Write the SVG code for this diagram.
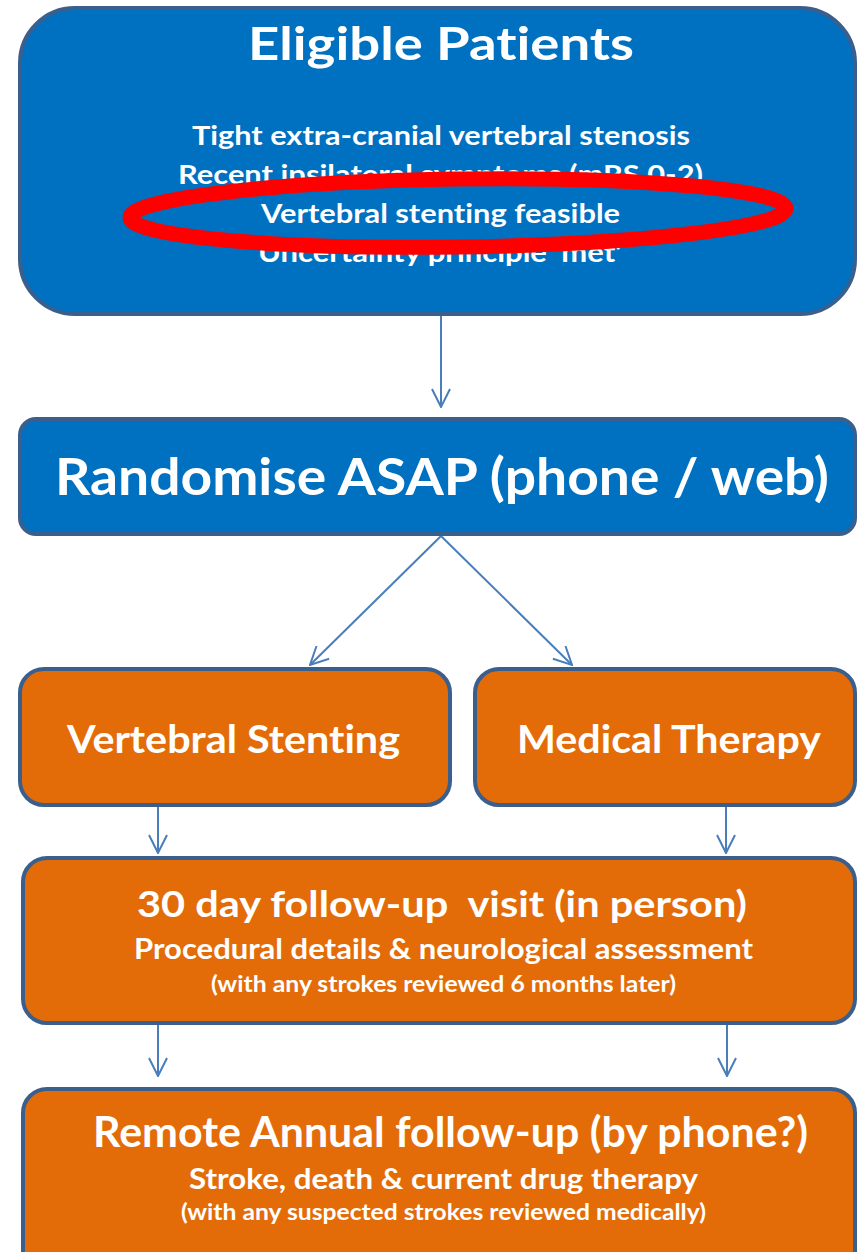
<svg xmlns="http://www.w3.org/2000/svg" width="858" height="1252" viewBox="0 0 858 1252">
<style>
.box{stroke:#3b5f8c;stroke-width:4}
.blue{fill:#0070c0}
.orange{fill:#e36c09}
text{font-family:Lato,"Open Sans","Liberation Sans",sans-serif;font-weight:bold;fill:#ffffff;font-variant-ligatures:none;white-space:pre}
.conn{stroke:#4a7ebb;stroke-width:2;fill:none;marker-end:url(#arr)}
</style>
<defs>
<marker id="arr" viewBox="0 0 20 20" refX="19" refY="10" markerWidth="20" markerHeight="20" markerUnits="userSpaceOnUse" orient="auto">
<path d="M1,1 L19,10 L1,19" fill="none" stroke="#4a7ebb" stroke-width="2"/>
</marker>
</defs>
<rect width="858" height="1252" fill="#ffffff"/>
<g id="connectors">
<line class="conn" x1="441" y1="316" x2="441" y2="407"/>
<line class="conn" x1="441" y1="536" x2="310" y2="665"/>
<line class="conn" x1="441" y1="536" x2="572" y2="665"/>
<line class="conn" x1="158" y1="807" x2="158" y2="853"/>
<line class="conn" x1="726" y1="807" x2="726" y2="853"/>
<line class="conn" x1="158" y1="1025" x2="158" y2="1076"/>
<line class="conn" x1="727" y1="1025" x2="727" y2="1076"/>
</g>
<g id="eligible">
<rect class="box blue" x="20" y="8" width="835" height="306" rx="55"/>
<text x="248" y="60" font-size="46" textLength="386" lengthAdjust="spacingAndGlyphs">Eligible Patients</text>
<text x="192" y="145" font-size="26" textLength="498" lengthAdjust="spacingAndGlyphs">Tight extra-cranial vertebral stenosis</text>
<text x="178" y="184" font-size="26" textLength="525" lengthAdjust="spacingAndGlyphs">Recent ipsilateral symptoms (mRS 0-2)</text>
<text x="258" y="262" font-size="26" textLength="364" lengthAdjust="spacingAndGlyphs">Uncertainty principle ‘met’</text>
<ellipse cx="458" cy="213" rx="328" ry="34" fill="#0070c0" stroke="#ff0000" stroke-width="15" transform="rotate(-0.8 458 213)"/>
<text x="261" y="223" font-size="26" textLength="359" lengthAdjust="spacingAndGlyphs">Vertebral stenting feasible</text>
</g>
<g id="randomise">
<rect class="box blue" x="20" y="419" width="835" height="115" rx="16"/>
<text x="55" y="495" font-size="52" textLength="774" lengthAdjust="spacingAndGlyphs">Randomise ASAP (phone / web)</text>
</g>
<g id="stenting">
<rect class="box orange" x="20" y="669" width="430" height="136" rx="24"/>
<text x="67" y="753" font-size="39" textLength="333" lengthAdjust="spacingAndGlyphs">Vertebral Stenting</text>
</g>
<g id="medical">
<rect class="box orange" x="475" y="669" width="380" height="136" rx="24"/>
<text x="517" y="753" font-size="39" textLength="304" lengthAdjust="spacingAndGlyphs">Medical Therapy</text>
</g>
<g id="followup30">
<rect class="box orange" x="23" y="858" width="832" height="165" rx="24"/>
<text x="137" y="917" font-size="37" textLength="610" lengthAdjust="spacingAndGlyphs">30 day follow-up  visit (in person)</text>
<text x="134" y="959" font-size="28" textLength="619" lengthAdjust="spacingAndGlyphs">Procedural details &amp; neurological assessment</text>
<text x="211" y="992" font-size="22" textLength="465" lengthAdjust="spacingAndGlyphs">(with any strokes reviewed 6 months later)</text>
</g>
<g id="annual">
<rect class="box orange" x="23" y="1089" width="832" height="200" rx="24"/>
<text x="93" y="1147" font-size="42" textLength="715" lengthAdjust="spacingAndGlyphs">Remote Annual follow-up (by phone?)</text>
<text x="189" y="1189" font-size="28" textLength="509" lengthAdjust="spacingAndGlyphs">Stroke, death &amp; current drug therapy</text>
<text x="181" y="1220" font-size="22" textLength="525" lengthAdjust="spacingAndGlyphs">(with any suspected strokes reviewed medically)</text>
</g>
</svg>
